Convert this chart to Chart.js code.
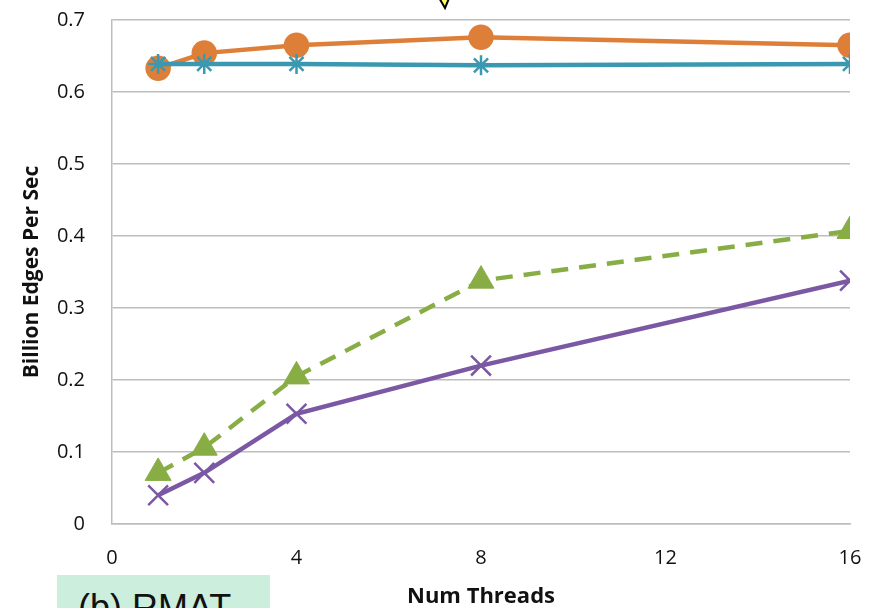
<!DOCTYPE html>
<html>
<head>
<meta charset="utf-8">
<script src="https://cdn.jsdelivr.net/npm/chart.js@4"></script>
<style>
  html, body { margin: 0; padding: 0; background: #fff; overflow: hidden; }
  #wrap { position: relative; width: 881px; height: 608px; }
  #label {
    position: absolute; left: 57px; top: 575px; width: 213px; height: 40px;
    background: #CBEEDD; font: 36px/36px "Liberation Sans", Arial, sans-serif;
    color: #111; white-space: nowrap; box-sizing: border-box; padding: 15px 0 0 21px;
  }
  #arrow { position: absolute; left: 436px; top: 0; }
</style>
</head>
<body>
<div id="wrap">
  <canvas id="chart" width="881" height="608"></canvas>
  <svg id="arrow" width="24" height="12"><polygon points="2,-4 14,-4 9,8" fill="#ffff66" stroke="#000" stroke-width="2"/></svg>
  <div id="label">(b) RMAT</div>
</div>
<script>
// Values
const threads = [1, 2, 4, 8, 16];
const orangeSeries = [0.633, 0.654, 0.665, 0.676, 0.665];
const tealSeries = [0.639, 0.639, 0.639, 0.637, 0.639];
const greenSeries = [0.071, 0.106, 0.205, 0.338, 0.407];
const purpleSeries = [0.040, 0.071, 0.153, 0.220, 0.338];
const xTicks = [0, 4, 8, 12, 16];
const yTicks = [0, 0.1, 0.2, 0.3, 0.4, 0.5, 0.6, 0.7];

const GRID = '#BDBDBD';
const FAMILY = '"Open Sans", "DejaVu Sans", sans-serif';
const TICK_FONT = {family: FAMILY, size: 20};

function toPoints(values) {
    return threads.map((t, i) => ({x: t, y: values[i]}));
}

const datasets = [
    {
        label: 'teal',
        data: toPoints(tealSeries),
        borderColor: '#3A98B0',
        backgroundColor: '#3A98B0',
        borderWidth: 4.5,
        pointStyle: 'star',
        pointRadius: 10,
        pointBorderWidth: 2.5,
    },
    {
        label: 'orange',
        data: toPoints(orangeSeries),
        borderColor: '#DE7F39',
        backgroundColor: '#DE7F39',
        borderWidth: 4.5,
        pointStyle: 'circle',
        pointRadius: 10.5,
    },
    {
        label: 'green',
        data: toPoints(greenSeries),
        borderColor: '#88AD45',
        backgroundColor: '#88AD45',
        borderWidth: 4.5,
        borderDash: [17, 11],
        pointStyle: 'triangle',
        pointRadius: 15,
        pointBorderWidth: 1,
    },
    {
        label: 'purple',
        data: toPoints(purpleSeries),
        borderColor: '#7B58A4',
        backgroundColor: '#7B58A4',
        borderWidth: 4.5,
        pointStyle: 'crossRot',
        pointRadius: 14,
        pointBorderWidth: 2.5,
    },
];

new Chart(document.getElementById('chart'), {
    type: 'line',
    data: {datasets},
    options: {
        responsive: false,
        animation: false,
        layout: {padding: {top: 20, right: 31, left: 0, bottom: 0}},
        plugins: {legend: {display: false}, tooltip: {enabled: false}},
        elements: {line: {tension: 0}},
        scales: {
            x: {
                type: 'linear',
                min: 0,
                max: 16,
                afterBuildTicks: (s) => { s.ticks = xTicks.map(v => ({value: v})); },
                afterFit: (s) => { s.height = 84; s.paddingLeft = 0; s.paddingRight = 0; },
                grid: {display: false, drawTicks: false},
                border: {display: true, color: GRID, width: 1.5},
                ticks: {color: '#111', font: TICK_FONT, padding: 22, maxRotation: 0},
                title: {
                    display: true,
                    text: 'Num Threads',
                    color: '#111',
                    font: {family: FAMILY, size: 22, weight: 'bold', lineHeight: 1},
                    padding: {top: 0, bottom: 0},
                },
            },
            y: {
                min: 0,
                max: 0.7,
                afterBuildTicks: (s) => { s.ticks = yTicks.map(v => ({value: v})); },
                afterFit: (s) => { s.width = 112; s.paddingTop = 0; s.paddingBottom = 0; },
                grid: {color: GRID, lineWidth: 1.5, drawTicks: false},
                border: {display: true, color: GRID, width: 1.5},
                ticks: {
                    color: '#111',
                    font: TICK_FONT,
                    padding: 27,
                    callback: (v) => String(Math.round(v * 10) / 10),
                },
                title: {
                    display: true,
                    text: 'Billion Edges Per Sec',
                    color: '#111',
                    font: {family: FAMILY, size: 21, weight: 'bold'},
                    padding: {top: 19, bottom: 0},
                },
            },
        },
    },
});
</script>
</body>
</html>
